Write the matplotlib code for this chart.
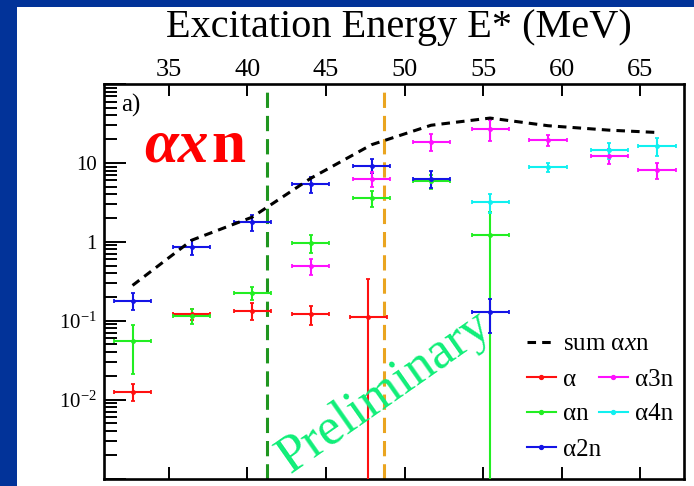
import matplotlib
matplotlib.use("Agg")
import matplotlib.pyplot as plt
from matplotlib.lines import Line2D
from matplotlib.patches import Rectangle
from matplotlib.ticker import LogLocator, FuncFormatter, NullFormatter, FixedLocator

plt.rcParams['font.family'] = ['Liberation Serif', 'DejaVu Serif']
plt.rcParams['mathtext.fontset'] = 'custom'
plt.rcParams['mathtext.rm'] = 'Liberation Serif'
plt.rcParams['mathtext.it'] = 'Liberation Serif:italic'
plt.rcParams['mathtext.bf'] = 'Liberation Serif:bold'

# ---- data: cross sections vs excitation energy E* (MeV) ----
e_half_width = 1.18  # horizontal error (MeV)

alpha_e = [32.68, 36.46, 40.29, 44.04, 47.68]
alpha_val = [0.0126, 0.122, 0.133, 0.122, 0.113]
alpha_lo = [0.0031, 0.020, 0.031, 0.033, 0.113]
alpha_hi = [0.0033, 0.020, 0.035, 0.033, 0.224]

an_e = [32.68, 36.46, 40.29, 44.04, 47.90, 51.69, 55.45]
an_val = [0.0553, 0.115, 0.226, 0.966, 3.59, 5.90, 1.22]
an_lo = [0.034, 0.025, 0.045, 0.25, 0.83, 1.2, 1.22]
an_hi = [0.034, 0.025, 0.040, 0.26, 0.84, 1.2, 1.2]

a2n_e = [32.68, 36.46, 40.29, 44.04, 47.90, 51.69, 55.45]
a2n_val = [0.180, 0.859, 1.78, 5.40, 9.14, 6.25, 0.129]
a2n_lo = [0.045, 0.18, 0.40, 1.2, 1.8, 1.5, 0.06]
a2n_hi = [0.045, 0.20, 0.42, 1.3, 2.0, 1.6, 0.06]

a3n_e = [44.04, 47.90, 51.69, 55.45, 59.14, 63.03, 66.08]
a3n_val = [0.494, 6.25, 18.4, 26.9, 19.5, 12.2, 8.13]
a3n_lo = [0.11, 1.3, 4.3, 8.0, 3.0, 2.4, 1.8]
a3n_hi = [0.11, 1.4, 4.7, 8.0, 3.0, 2.6, 1.9]

a4n_e = [55.45, 59.14, 63.03, 66.08]
a4n_val = [3.19, 8.87, 14.6, 16.4]
a4n_lo = [0.9, 1.1, 3.3, 4.1]
a4n_hi = [0.9, 1.2, 3.3, 4.2]

sum_e = [32.68, 36.46, 40.29, 44.04, 47.90, 51.69, 55.45, 59.14, 63.03, 66.08]
sum_val = [0.28, 1.05, 2.05, 6.4, 17.0, 30.0, 37.0, 29.6, 26.0, 24.3]

thresholds = [41.26, 48.69]
threshold_colors = ['#1f961f', '#eaa520']

x_ticks = [35, 40, 45, 50, 55, 60, 65]

series = [
    ('α', alpha_e, alpha_val, alpha_lo, alpha_hi, '#ff1010'),
    ('αn', an_e, an_val, an_lo, an_hi, '#22ee22'),
    ('α2n', a2n_e, a2n_val, a2n_lo, a2n_hi, '#1414e6'),
    ('α3n', a3n_e, a3n_val, a3n_lo, a3n_hi, '#ff10ff'),
    ('α4n', a4n_e, a4n_val, a4n_lo, a4n_hi, '#10f0f0'),
]

# ---- figure ----
W, H = 694, 486
fig = plt.figure(figsize=(W / 100, H / 100), dpi=100)
fig.patch.set_facecolor('#023399')
fig.add_artist(Rectangle((17 / W, 0), 1 - 17 / W, (H - 7) / H,
                         transform=fig.transFigure, facecolor='white',
                         edgecolor='none', zorder=0))

left, right, top, bottom = 103.5, 684, 84, 478.5
axw = (right - left) / W
axh = (bottom - top) / H
ax = fig.add_axes([left / W, (H - bottom) / H, axw, axh])

def ax_x(px):
    return (px - left) / (right - left)

def ax_y(py):
    return (bottom - py) / (bottom - top)

# lower panel whose top edge shows below
ax2 = fig.add_axes([left / W, (H - bottom) / H - axh, axw, axh], zorder=-1)
ax2.set_yscale('log')
ax2.set_ylim(1e-3, 1e2)
ax2.set_xlim(30.83, 67.80)
ax2.set_xticks(x_ticks)
ax2.tick_params(axis='x', which='major', top=True, bottom=False,
                direction='in', length=8.5, width=1.4,
                labelbottom=False, labeltop=False)
ax2.tick_params(axis='y', which='both', left=True, right=False,
                direction='in', labelleft=False)
ax2.tick_params(axis='y', which='major', length=16, width=1.4)
ax2.tick_params(axis='y', which='minor', length=9, width=1.4)
for s in ax2.spines.values():
    s.set_linewidth(1.9)

ax.set_yscale('log')
ax.set_xlim(30.83, 67.80)
ax.set_ylim(1e-3, 1e2)

for xv, c in zip(thresholds, threshold_colors):
    ax.axvline(xv, color=c, lw=2.2, ls=(0, (5, 2.6)), zorder=2)

for name, xs, ys, lo, hi, c in series:
    ax.errorbar(xs, ys, xerr=e_half_width, yerr=[lo, hi], fmt='o', ms=2.5,
                color=c, ecolor=c, elinewidth=1.5, capsize=1.6, capthick=1.3,
                zorder=3)

ax.plot(sum_e, sum_val, color='black', lw=2.2, ls=(0, (2.8, 2.0)), zorder=4)

# axes styling
ax.set_xticks(x_ticks)
ax.tick_params(axis='x', which='major', top=True, bottom=True,
               labeltop=True, labelbottom=False, direction='in',
               length=8.5, width=1.4, labelsize=19, pad=2.5)
ax.xaxis.set_minor_locator(FixedLocator([]))

def ylab(v, pos):
    if abs(v - 10) < 1e-9:
        return '10'
    if abs(v - 1) < 1e-9:
        return '1'
    if abs(v - 0.1) < 1e-12:
        return r'$10^{-1}$'
    if abs(v - 0.01) < 1e-12:
        return r'$10^{-2}$'
    return ''

ax.yaxis.set_major_locator(LogLocator(base=10, numticks=10))
ax.yaxis.set_major_formatter(FuncFormatter(ylab))
ax.yaxis.set_minor_locator(LogLocator(base=10, subs=range(2, 10), numticks=20))
ax.yaxis.set_minor_formatter(NullFormatter())
ax.tick_params(axis='y', which='both', left=True, right=False,
               direction='in', labelsize=15, pad=5)
ax.tick_params(axis='y', which='major', length=16, width=1.4)
ax.tick_params(axis='y', which='minor', length=9, width=1.4)
for s in ax.spines.values():
    s.set_linewidth(1.9)

# annotations
ax.text(ax_x(399), ax_y(37), 'Excitation Energy E* (MeV)',
        transform=ax.transAxes, ha='center', va='baseline', fontsize=29)
ax.text(ax_x(121), ax_y(112), 'a)', transform=ax.transAxes,
        ha='left', va='baseline', fontsize=18)

t1 = ax.text(ax_x(144), ax_y(161.7), 'αx', transform=ax.transAxes,
             ha='left', va='baseline', fontsize=44, color='#ff0000',
             fontstyle='italic', fontweight='bold')
ax.annotate('n', xy=(1, 0), xycoords=t1, xytext=(2, 0),
            textcoords='offset points', ha='left', va='bottom',
            fontsize=44, color='#ff0000', fontweight='bold')

ax.text(ax_x(385), ax_y(392), 'Preliminary', transform=ax.transAxes,
        ha='center', va='center', rotation=35, rotation_mode='anchor',
        fontsize=38, color='#10ee78', zorder=5)

# legends
sum_handle = Line2D([], [], color='black', lw=2.2, ls=(0, (2.8, 2.0)))
leg1 = ax.legend([sum_handle], ['sum α$x$n'], loc='upper left',
                 bbox_to_anchor=(ax_x(527), ax_y(333)),
                 frameon=False, borderpad=0, borderaxespad=0,
                 handlelength=1.15, handletextpad=0.3, fontsize=18)
ax.add_artist(leg1)

handles = [Line2D([], [], color=c, lw=1.5, marker='o', ms=2.8)
           for (_, _, _, _, _, c) in series]
labels = [s[0] for s in series]
ax.legend(handles, labels, ncol=2, loc='upper left',
          bbox_to_anchor=(ax_x(527), ax_y(368)),
          frameon=False, borderpad=0, borderaxespad=0,
          handlelength=1.15, handletextpad=0.3, columnspacing=-0.1,
          labelspacing=0.5, fontsize=18)

fig.savefig('out.png', dpi=100, facecolor=fig.get_facecolor())
